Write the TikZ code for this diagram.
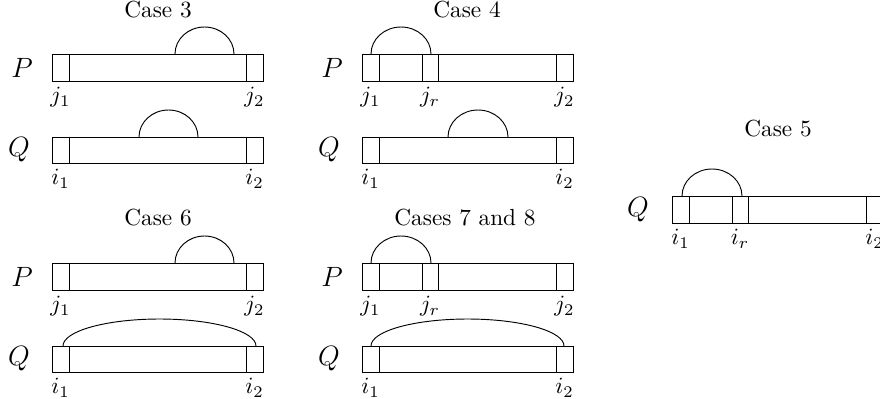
\documentclass[tikz,border=0pt]{standalone}
\usetikzlibrary{positioning}

\begin{document}
\begin{tikzpicture}[
    x=0.0151cm, y=0.0151cm,
    seg/.style={draw, line width=0.4pt},
    idx/.style={anchor=north, inner sep=2.5pt},
    lbl/.style={anchor=center, inner sep=0pt, font=\large}
  ]
  \useasboundingbox (0,0) rectangle (880,398);

  % Case 3
  \node (c3) at (158,388) {Case 3};
  \node[lbl] (c3p) at (22,330) {$P$};
  \node[lbl] (c3q) at (19,248) {$Q$};
  \draw[seg] (52,317) rectangle (263,344) (69,317) -- (69,344) (246,317) -- (246,344);
  \draw[seg] (175,344) arc[start angle=180, end angle=0, x radius=29.5, y radius=27];
  \node[idx] (c3j1) at (60.5,317) {$j_1$};
  \node[idx] (c3j2) at (254.5,317) {$j_2$};
  \draw[seg] (52,235) rectangle (263,261) (69,235) -- (69,261) (246,235) -- (246,261);
  \draw[seg] (139,261) arc[start angle=180, end angle=0, x radius=29.5, y radius=27];
  \node[idx] (c3i1) at (60.5,235) {$i_1$};
  \node[idx] (c3i2) at (254.5,235) {$i_2$};

  % Case 4
  \begin{scope}[shift={(310,0)}]
    \node (c4) at (157,388) {Case 4};
    \node[lbl] (c4p) at (22,330) {$P$};
    \node[lbl] (c4q) at (19,248) {$Q$};
    \draw[seg] (52,317) rectangle (263,344);
    \foreach \x in {69,112,128,246} \draw[seg] (\x,317) -- (\x,344);
    \draw[seg] (61,344) arc[start angle=180, end angle=0, x radius=30, y radius=27];
    \node[idx] (c4j1) at (60.5,317) {$j_1$};
    \node[idx] (c4jr) at (120,317) {$j_r$};
    \node[idx] (c4j2) at (254.5,317) {$j_2$};
    \draw[seg] (52,235) rectangle (263,261) (69,235) -- (69,261) (246,235) -- (246,261);
    \draw[seg] (138,261) arc[start angle=180, end angle=0, x radius=30, y radius=27];
    \node[idx] (c4i1) at (60.5,235) {$i_1$};
    \node[idx] (c4i2) at (254.5,235) {$i_2$};
  \end{scope}

  % Case 6
  \begin{scope}[shift={(0,-209)}]
    \node (c6) at (158,389) {Case 6};
    \node[lbl] (c6p) at (22,330) {$P$};
    \node[lbl] (c6q) at (19,248) {$Q$};
    \draw[seg] (52,317) rectangle (263,344) (69,317) -- (69,344) (246,317) -- (246,344);
    \draw[seg] (175,344) arc[start angle=180, end angle=0, x radius=29.5, y radius=27];
    \node[idx] (c6j1) at (60.5,317) {$j_1$};
    \node[idx] (c6j2) at (254.5,317) {$j_2$};
    \draw[seg] (52,235) rectangle (263,261) (69,235) -- (69,261) (246,235) -- (246,261);
    \draw[seg] (63,261) arc[start angle=180, end angle=0, x radius=96.5, y radius=27];
    \node[idx] (c6i1) at (60.5,235) {$i_1$};
    \node[idx] (c6i2) at (254.5,235) {$i_2$};
  \end{scope}

  % Cases 7 and 8
  \begin{scope}[shift={(310,-209)}]
    \node (c78) at (155,389) {Cases 7 and 8};
    \node[lbl] (c78p) at (22,330) {$P$};
    \node[lbl] (c78q) at (19,248) {$Q$};
    \draw[seg] (52,317) rectangle (263,344);
    \foreach \x in {69,112,128,246} \draw[seg] (\x,317) -- (\x,344);
    \draw[seg] (61,344) arc[start angle=180, end angle=0, x radius=30, y radius=27];
    \node[idx] (c78j1) at (60.5,317) {$j_1$};
    \node[idx] (c78jr) at (120,317) {$j_r$};
    \node[idx] (c78j2) at (254.5,317) {$j_2$};
    \draw[seg] (52,235) rectangle (263,261) (69,235) -- (69,261) (246,235) -- (246,261);
    \draw[seg] (61,261) arc[start angle=180, end angle=0, x radius=96.5, y radius=27];
    \node[idx] (c78i1) at (60.5,235) {$i_1$};
    \node[idx] (c78i2) at (254.5,235) {$i_2$};
  \end{scope}

  % Case 5
  \node (c5) at (778,269) {Case 5};
  \begin{scope}[shift={(620,-142)}]
    \node[lbl] (c5q) at (18,330) {$Q$};
    \draw[seg] (52,317) rectangle (263,344);
    \foreach \x in {69,112,128,246} \draw[seg] (\x,317) -- (\x,344);
    \draw[seg] (62,344) arc[start angle=180, end angle=0, x radius=30, y radius=27];
    \node[idx] (c5i1) at (60.5,317) {$i_1$};
    \node[idx] (c5ir) at (120,317) {$i_r$};
    \node[idx] (c5i2) at (254.5,317) {$i_2$};
  \end{scope}
\end{tikzpicture}
\end{document}
